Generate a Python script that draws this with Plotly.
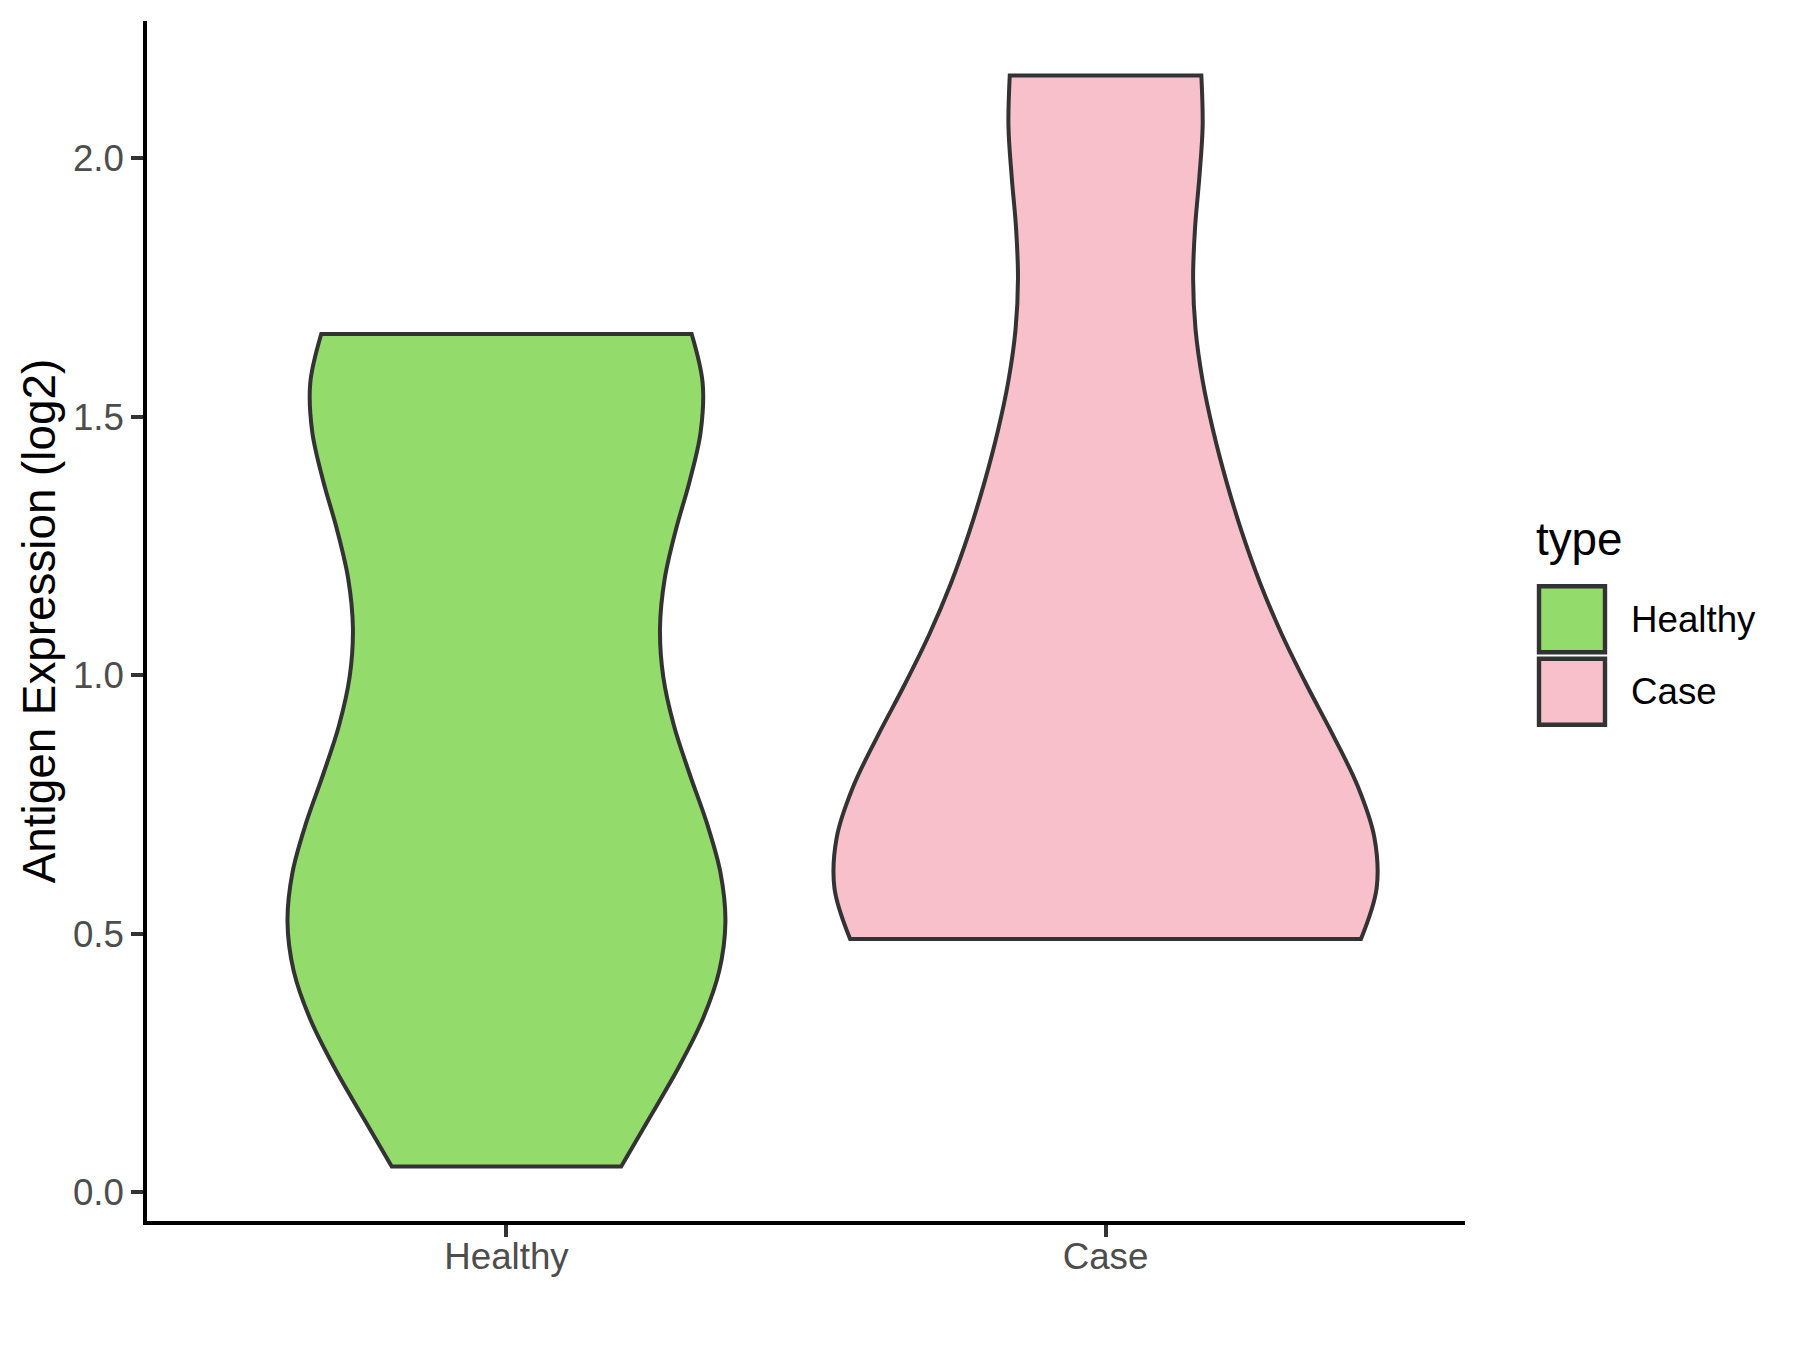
import plotly.graph_objects as go

# ---- data ----
categories = ["Healthy", "Case"]
healthy_values = [0.05, 0.43, 0.51, 0.53, 0.86, 1.18, 1.59, 1.59, 1.66]
case_values = [0.49, 0.52, 0.53, 0.53, 0.57, 0.88, 0.98, 1.26, 1.54, 2.16, 2.16]
y_tick_values = [0, 0.5, 1.0, 1.5, 2.0]
y_tick_labels = ["0.0", "0.5", "1.0", "1.5", "2.0"]

# ---- styling ----
samples = {"Healthy": healthy_values, "Case": case_values}
fills = {"Healthy": "#93DB6B", "Case": "#F7C0CB"}
bandwidths = {"Healthy": 0.292, "Case": 0.308}
widths = {"Healthy": 0.731, "Case": 0.905}

FONT = "Liberation Sans, Arial, sans-serif"
OFF = 8  # default page margin of the html body
W, H = 1800 - OFF, 1350 - OFF
L, T = 147 - OFF, 21 - OFF
PW, PH = 1318, 1200.5
R, B = W - L - PW, H - T - PH


def px(x):  # page x -> paper
    return (x - OFF - L) / PW


def py(y):  # page y -> paper
    return (T + PH - (y - OFF)) / PH


fig = go.Figure()
for cat in categories:
    fig.add_trace(go.Violin(
        x=[cat] * len(samples[cat]), y=samples[cat], name=cat,
        fillcolor=fills[cat], line=dict(color="#333333", width=4),
        spanmode="hard", bandwidth=bandwidths[cat], width=widths[cat], scalemode="width",
        points=False, box_visible=False, meanline_visible=False,
        hoverinfo="skip", showlegend=False))

axis_common = dict(showline=True, linecolor="black", linewidth=4.4, ticks="outside",
                   ticklen=11.5, tickwidth=4.4, tickcolor="#333333", showgrid=False,
                   zeroline=False, tickfont=dict(family=FONT, size=36.7, color="#4D4D4D"))

fig.update_layout(
    width=W, height=H, margin=dict(l=L, r=R, t=T, b=B),
    paper_bgcolor="white", plot_bgcolor="white", violinmode="overlay",
    xaxis=dict(type="category", categoryorder="array", categoryarray=categories,
               range=[-0.6, 1.6], ticklabelstandoff=-12, **axis_common),
    yaxis=dict(range=[-0.0555, 2.2655], tickvals=y_tick_values, ticktext=y_tick_labels,
               ticklabelstandoff=0,
               title=dict(text="Antigen Expression (log2)", standoff=4,
                          font=dict(family=FONT, size=45.8, color="black")),
               **axis_common),
)

# legend: title, key boxes and labels
fig.add_annotation(x=px(1534), y=py(540), xref="paper", yref="paper", text="type",
                   showarrow=False, xanchor="left", yanchor="middle",
                   font=dict(family=FONT, size=45.8, color="black"))
key_tops = [586.5, 659]
for cat, top in zip(categories, key_tops):
    fig.add_shape(type="rect", xref="paper", yref="paper",
                  x0=px(1539), x1=px(1605), y0=py(top), y1=py(top + 66),
                  fillcolor=fills[cat], line=dict(color="#333333", width=4.4))
    fig.add_annotation(x=px(1629), y=py(top + 33), xref="paper", yref="paper", text=cat,
                       showarrow=False, xanchor="left", yanchor="middle",
                       font=dict(family=FONT, size=36.7, color="black"))

fig.write_html("out.html")
